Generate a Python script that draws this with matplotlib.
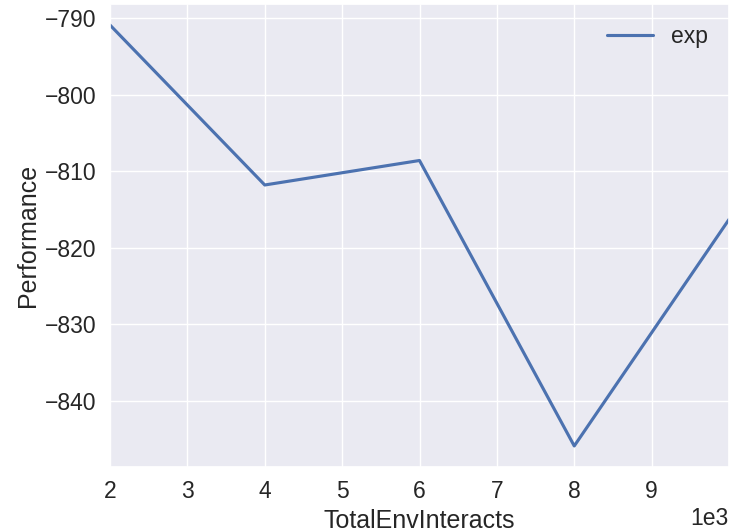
import matplotlib
matplotlib.use("Agg")
import matplotlib.pyplot as plt
import seaborn as sns

# data
steps = [2000, 4000, 6000, 8000, 10000]
perf = [-790.9, -811.8, -808.6, -845.9, -816.3]
label = "exp"

sns.set(style="darkgrid", font_scale=1.5)
plt.rcParams['font.family'] = ['Arial', 'Liberation Sans', 'DejaVu Sans']

fig = plt.figure(figsize=(7.29, 5.30), dpi=100)
ax = fig.add_axes([110/729, 63/530, 619/729, 463/530])
ax.plot(steps, perf, color="#4C72B0", linewidth=2.25, label=label)
ax.set_xlim(2000, 10000)
ax.set_xticks([2000, 3000, 4000, 5000, 6000, 7000, 8000, 9000])
ax.ticklabel_format(style='sci', axis='x', scilimits=(3, 3))
ax.set_xlabel("TotalEnvInteracts")
ax.set_ylabel("Performance")
ax.legend(loc="best", frameon=False).set_draggable(True)

fig.savefig("out.png", dpi=100)
